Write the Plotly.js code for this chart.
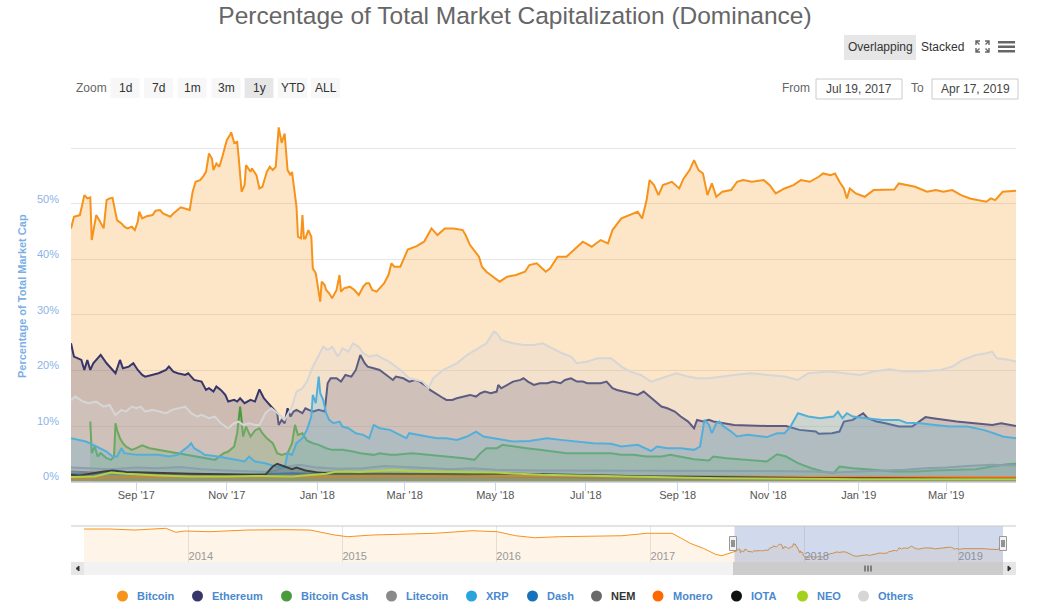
<!DOCTYPE html>
<html><head><meta charset="utf-8">
<script src="https://cdn.plot.ly/plotly-3.0.1.min.js"></script>
<style>html,body{margin:0;padding:0;background:#fff;}#chart{width:1041px;height:614px;}</style>
</head><body><div id="chart"></div>
<script>
// ---------------- DATA ----------------
const seriesNames = ['Bitcoin','Ethereum','Bitcoin Cash','Litecoin','XRP','Dash','NEM','Monero','IOTA','NEO','Others'];
const zoomButtons = ['1d','7d','1m','3m','1y','YTD','ALL'];
const dateFrom = 'Jul 19, 2017';
const dateTo = 'Apr 17, 2019';

const bitcoin = [['2017-07-19',45.6],['2017-07-21',47.7],['2017-07-25',48.0],['2017-07-28',51.6],['2017-07-30',51.0],['2017-08-01',51.2],['2017-08-02',43.5],['2017-08-05',48.0],['2017-08-07',47.1],['2017-08-10',45.6],['2017-08-12',50.7],['2017-08-14',51.0],['2017-08-16',51.1],['2017-08-19',47.1],['2017-08-22',46.5],['2017-08-24',45.9],['2017-08-26',45.6],['2017-08-29',45.9],['2017-08-31',45.3],['2017-09-02',46.8],['2017-09-03',48.6],['2017-09-05',47.4],['2017-09-08',47.8],['2017-09-12',48.0],['2017-09-14',48.8],['2017-09-17',48.9],['2017-09-19',48.3],['2017-09-24',47.7],['2017-09-26',48.3],['2017-10-01',49.4],['2017-10-06',49.0],['2017-10-07',48.9],['2017-10-09',52.2],['2017-10-11',54.0],['2017-10-14',54.3],['2017-10-16',54.9],['2017-10-18',55.8],['2017-10-20',59.1],['2017-10-22',58.2],['2017-10-23',56.1],['2017-10-25',57.3],['2017-10-27',56.7],['2017-10-29',58.5],['2017-11-01',61.5],['2017-11-03',62.4],['2017-11-04',62.9],['2017-11-06',61.0],['2017-11-08',61.2],['2017-11-09',58.5],['2017-11-11',52.2],['2017-11-13',53.4],['2017-11-14',57.0],['2017-11-17',55.8],['2017-11-18',56.4],['2017-11-21',55.2],['2017-11-23',52.8],['2017-11-25',53.1],['2017-11-28',55.8],['2017-11-30',56.7],['2017-12-02',56.1],['2017-12-04',56.7],['2017-12-06',63.8],['2017-12-08',61.0],['2017-12-09',62.1],['2017-12-10',62.7],['2017-12-12',56.1],['2017-12-14',55.2],['2017-12-15',55.8],['2017-12-18',49.5],['2017-12-19',44.1],['2017-12-21',43.8],['2017-12-22',48.0],['2017-12-23',43.8],['2017-12-24',43.8],['2017-12-26',45.3],['2017-12-28',44.1],['2017-12-29',38.4],['2017-12-31',37.5],['2018-01-01',35.7],['2018-01-03',32.4],['2018-01-04',36.0],['2018-01-06',35.4],['2018-01-07',34.5],['2018-01-09',33.9],['2018-01-11',33.0],['2018-01-14',34.5],['2018-01-16',37.2],['2018-01-17',34.2],['2018-01-19',34.8],['2018-01-23',35.1],['2018-01-26',34.5],['2018-01-29',33.6],['2018-02-01',35.1],['2018-02-03',35.7],['2018-02-05',35.7],['2018-02-07',34.5],['2018-02-10',34.2],['2018-02-12',34.8],['2018-02-15',35.7],['2018-02-18',37.2],['2018-02-20',39.3],['2018-02-22',38.7],['2018-02-26',38.7],['2018-03-03',41.8],['2018-03-09',42.4],['2018-03-14',43.2],['2018-03-19',45.6],['2018-03-23',44.4],['2018-03-28',45.6],['2018-04-03',45.6],['2018-04-09',45.3],['2018-04-11',44.4],['2018-04-14',42.6],['2018-04-20',40.5],['2018-04-22',38.7],['2018-04-25',37.8],['2018-04-28',37.2],['2018-05-04',36.0],['2018-05-09',36.9],['2018-05-15',37.2],['2018-05-21',37.8],['2018-05-24',39.0],['2018-05-29',39.3],['2018-06-04',37.8],['2018-06-07',38.4],['2018-06-12',40.5],['2018-06-18',40.5],['2018-06-24',42.0],['2018-06-29',43.2],['2018-07-05',42.3],['2018-07-11',43.5],['2018-07-16',42.9],['2018-07-19',45.3],['2018-07-25',47.4],['2018-07-30',48.0],['2018-08-05',48.6],['2018-08-08',47.4],['2018-08-11',50.7],['2018-08-13',54.3],['2018-08-16',53.4],['2018-08-19',51.6],['2018-08-22',53.4],['2018-08-28',54.0],['2018-09-02',52.8],['2018-09-05',54.6],['2018-09-09',56.1],['2018-09-12',57.9],['2018-09-15',56.1],['2018-09-18',55.5],['2018-09-21',51.6],['2018-09-24',53.7],['2018-09-27',51.3],['2018-10-01',52.2],['2018-10-07',52.5],['2018-10-11',54.0],['2018-10-15',54.3],['2018-10-21',54.0],['2018-10-29',54.3],['2018-11-02',53.4],['2018-11-06',51.9],['2018-11-12',52.8],['2018-11-18',53.4],['2018-11-23',54.3],['2018-11-29',54.0],['2018-12-05',54.9],['2018-12-08',55.5],['2018-12-13',55.2],['2018-12-16',55.5],['2018-12-19',54.0],['2018-12-22',52.8],['2018-12-24',51.0],['2018-12-26',52.8],['2018-12-30',51.9],['2019-01-05',51.3],['2019-01-11',52.5],['2019-01-16',52.5],['2019-01-25',52.6],['2019-01-28',53.7],['2019-02-02',53.4],['2019-02-08',53.1],['2019-02-16',52.2],['2019-02-22',52.5],['2019-02-27',52.2],['2019-03-05',52.5],['2019-03-11',51.6],['2019-03-17',51.0],['2019-03-22',50.7],['2019-03-28',50.4],['2019-03-31',51.0],['2019-04-03',50.7],['2019-04-08',52.2],['2019-04-17',52.4]];

const ethereum = [['2017-07-19',24.9],['2017-07-21',22.5],['2017-07-26',21.9],['2017-07-28',20.1],['2017-07-30',21.9],['2017-08-01',20.1],['2017-08-03',21.3],['2017-08-05',21.9],['2017-08-08',22.8],['2017-08-12',21.3],['2017-08-16',20.1],['2017-08-18',19.5],['2017-08-21',21.9],['2017-08-23',20.4],['2017-08-27',20.7],['2017-08-30',21.3],['2017-09-02',20.1],['2017-09-05',19.2],['2017-09-07',18.9],['2017-09-12',19.2],['2017-09-16',19.5],['2017-09-21',20.1],['2017-09-23',20.7],['2017-09-26',19.8],['2017-09-29',19.5],['2017-10-04',19.2],['2017-10-06',19.5],['2017-10-08',18.9],['2017-10-10',18.3],['2017-10-15',18.0],['2017-10-18',16.5],['2017-10-20',16.8],['2017-10-23',16.2],['2017-10-25',17.1],['2017-10-28',16.5],['2017-10-31',15.6],['2017-11-02',14.4],['2017-11-06',14.7],['2017-11-08',14.4],['2017-11-10',15.0],['2017-11-13',14.1],['2017-11-17',14.7],['2017-11-20',14.4],['2017-11-23',16.6],['2017-11-26',15.0],['2017-11-28',14.4],['2017-12-02',13.2],['2017-12-05',12.3],['2017-12-06',10.2],['2017-12-08',11.1],['2017-12-10',10.5],['2017-12-12',13.2],['2017-12-14',11.7],['2017-12-16',12.6],['2017-12-18',12.9],['2017-12-22',12.3],['2017-12-24',13.2],['2017-12-26',12.9],['2017-12-29',12.6],['2018-01-02',12.9],['2018-01-06',12.6],['2018-01-08',17.7],['2018-01-10',18.6],['2018-01-14',18.6],['2018-01-17',18.0],['2018-01-20',19.2],['2018-01-24',18.9],['2018-01-27',20.1],['2018-01-30',22.8],['2018-02-02',21.3],['2018-02-04',20.7],['2018-02-08',20.4],['2018-02-12',20.1],['2018-02-15',19.5],['2018-02-21',18.3],['2018-02-23',18.9],['2018-02-28',18.6],['2018-03-04',18.0],['2018-03-08',18.3],['2018-03-11',18.0],['2018-03-16',17.1],['2018-03-18',16.5],['2018-03-23',15.6],['2018-03-27',15.0],['2018-03-29',14.7],['2018-04-02',14.7],['2018-04-05',15.0],['2018-04-10',15.3],['2018-04-14',15.6],['2018-04-18',15.3],['2018-04-21',15.9],['2018-04-24',16.2],['2018-04-28',15.9],['2018-05-02',16.2],['2018-05-03',17.4],['2018-05-05',16.8],['2018-05-09',17.4],['2018-05-13',18.0],['2018-05-18',18.3],['2018-05-20',18.6],['2018-05-23',18.0],['2018-05-27',17.4],['2018-05-31',17.7],['2018-06-05',17.7],['2018-06-09',18.0],['2018-06-14',17.7],['2018-06-17',18.3],['2018-06-21',18.6],['2018-06-25',18.0],['2018-06-29',18.0],['2018-07-02',17.7],['2018-07-06',17.7],['2018-07-11',17.7],['2018-07-15',18.0],['2018-07-19',16.8],['2018-07-22',16.5],['2018-07-27',16.2],['2018-07-31',15.9],['2018-08-05',15.6],['2018-08-09',16.2],['2018-08-13',15.3],['2018-08-17',14.4],['2018-08-21',13.5],['2018-08-25',13.2],['2018-08-30',12.6],['2018-09-03',11.7],['2018-09-08',10.8],['2018-09-12',9.6],['2018-09-14',11.1],['2018-09-18',10.8],['2018-09-22',11.1],['2018-09-25',10.8],['2018-10-09',10.2],['2018-10-31',10.0],['2018-11-13',10.0],['2018-11-22',9.3],['2018-12-03',9.0],['2018-12-05',8.6],['2018-12-14',8.7],['2018-12-19',9.0],['2018-12-22',10.8],['2018-12-28',11.1],['2019-01-04',12.3],['2019-01-07',11.4],['2019-01-13',10.8],['2019-01-19',10.5],['2019-01-28',9.9],['2019-02-06',9.9],['2019-02-15',11.6],['2019-02-20',11.4],['2019-02-27',11.1],['2019-03-08',10.8],['2019-03-20',10.5],['2019-04-01',10.2],['2019-04-07',10.5],['2019-04-17',10.0]];

const bitcoinCash = [['2017-08-01',10.8],['2017-08-02',5.1],['2017-08-04',6.3],['2017-08-06',4.5],['2017-08-08',5.1],['2017-08-12',4.2],['2017-08-15',3.9],['2017-08-17',4.5],['2017-08-18',10.5],['2017-08-19',9.3],['2017-08-21',7.8],['2017-08-23',6.9],['2017-08-25',6.3],['2017-08-29',5.7],['2017-09-01',6.0],['2017-09-05',6.5],['2017-09-10',6.0],['2017-09-16',5.7],['2017-09-23',5.4],['2017-09-29',5.1],['2017-10-04',4.8],['2017-10-10',4.5],['2017-10-17',4.2],['2017-10-24',3.9],['2017-10-30',5.1],['2017-11-02',5.4],['2017-11-06',6.3],['2017-11-08',8.7],['2017-11-09',11.1],['2017-11-10',13.5],['2017-11-11',11.1],['2017-11-12',8.1],['2017-11-14',9.9],['2017-11-17',8.1],['2017-11-20',9.2],['2017-11-23',9.6],['2017-11-25',8.7],['2017-11-28',7.8],['2017-12-02',6.9],['2017-12-05',5.1],['2017-12-08',4.8],['2017-12-12',5.1],['2017-12-15',6.9],['2017-12-17',10.2],['2017-12-19',8.4],['2017-12-22',8.7],['2017-12-25',7.4],['2017-12-29',6.9],['2018-01-02',6.6],['2018-01-07',6.0],['2018-01-11',5.7],['2018-01-18',5.7],['2018-01-25',5.4],['2018-01-30',5.1],['2018-02-08',4.8],['2018-02-12',5.1],['2018-02-19',4.8],['2018-02-23',4.8],['2018-03-06',5.1],['2018-03-18',4.8],['2018-03-29',4.5],['2018-04-10',4.2],['2018-04-17',3.9],['2018-04-21',5.1],['2018-04-25',6.0],['2018-05-02',6.0],['2018-05-06',6.6],['2018-05-13',6.3],['2018-05-22',6.0],['2018-05-31',5.7],['2018-06-09',5.4],['2018-06-18',5.1],['2018-06-27',5.1],['2018-07-06',5.1],['2018-07-18',5.1],['2018-07-25',4.8],['2018-08-02',4.8],['2018-08-11',4.5],['2018-08-21',4.5],['2018-08-27',4.8],['2018-09-03',4.5],['2018-09-12',4.0],['2018-09-22',3.8],['2018-09-25',4.5],['2018-10-04',4.2],['2018-10-20',3.9],['2018-10-31',3.6],['2018-11-07',4.9],['2018-11-13',4.5],['2018-11-21',3.3],['2018-11-30',2.4],['2018-12-08',1.8],['2018-12-15',1.5],['2018-12-19',2.7],['2018-12-28',2.4],['2019-01-11',2.1],['2019-01-24',1.8],['2019-02-09',1.8],['2019-02-20',2.0],['2019-03-10',2.1],['2019-03-21',2.2],['2019-04-01',2.7],['2019-04-11',3.1],['2019-04-17',3.2]];

const litecoin = [['2017-07-19',2.5],['2017-08-01',2.3],['2017-08-15',2.2],['2017-09-01',2.5],['2017-09-15',2.4],['2017-10-01',2.6],['2017-10-15',2.2],['2017-11-01',2.0],['2017-11-15',1.8],['2017-12-01',1.7],['2017-12-12',2.7],['2017-12-20',3.0],['2018-01-01',2.5],['2018-01-15',2.3],['2018-02-01',2.4],['2018-02-15',2.8],['2018-03-01',2.6],['2018-03-15',2.4],['2018-04-01',2.2],['2018-04-15',2.4],['2018-05-01',2.1],['2018-06-01',2.0],['2018-07-01',2.0],['2018-08-01',2.0],['2018-09-01',1.9],['2018-10-01',1.9],['2018-11-01',1.9],['2018-12-01',1.8],['2018-12-15',1.6],['2019-01-01',1.8],['2019-02-01',2.1],['2019-02-15',2.4],['2019-03-01',2.5],['2019-03-15',2.8],['2019-04-01',3.0],['2019-04-17',2.9]];

const xrp = [['2017-07-19',7.8],['2017-07-25',7.5],['2017-07-29',7.2],['2017-08-03',6.6],['2017-08-07',6.0],['2017-08-12',5.4],['2017-08-16',4.5],['2017-08-19',4.5],['2017-08-22',6.0],['2017-08-24',5.1],['2017-09-01',4.8],['2017-09-16',4.8],['2017-09-23',4.5],['2017-09-29',4.8],['2017-10-03',5.7],['2017-10-06',6.3],['2017-10-08',6.9],['2017-10-10',6.0],['2017-10-14',5.4],['2017-10-17',4.8],['2017-10-26',4.5],['2017-10-31',4.2],['2017-11-07',3.9],['2017-11-13',3.6],['2017-11-16',4.5],['2017-11-20',3.6],['2017-11-27',3.3],['2017-12-04',2.7],['2017-12-10',2.4],['2017-12-12',5.1],['2017-12-15',4.8],['2017-12-18',6.9],['2017-12-22',7.8],['2017-12-25',9.3],['2017-12-28',11.7],['2017-12-29',15.6],['2017-12-31',14.1],['2018-01-02',18.9],['2018-01-03',15.9],['2018-01-05',14.7],['2018-01-07',12.3],['2018-01-09',11.1],['2018-01-12',10.5],['2018-01-16',10.8],['2018-01-18',9.9],['2018-01-22',9.6],['2018-01-27',8.7],['2018-02-01',8.4],['2018-02-05',7.8],['2018-02-08',10.2],['2018-02-12',9.6],['2018-02-19',9.3],['2018-02-26',8.4],['2018-03-02',7.8],['2018-03-04',8.7],['2018-03-09',8.4],['2018-03-16',8.1],['2018-03-23',7.8],['2018-03-29',7.8],['2018-04-05',7.5],['2018-04-12',8.1],['2018-04-18',9.0],['2018-04-23',8.1],['2018-04-30',7.8],['2018-05-06',7.5],['2018-05-13',7.2],['2018-05-24',7.3],['2018-06-05',7.8],['2018-06-14',7.5],['2018-06-25',7.2],['2018-07-06',6.9],['2018-07-18',6.8],['2018-07-25',6.3],['2018-08-05',6.6],['2018-08-14',5.5],['2018-08-18',6.3],['2018-08-25',6.0],['2018-09-03',6.0],['2018-09-12',5.7],['2018-09-16',6.3],['2018-09-19',11.1],['2018-09-22',10.2],['2018-09-24',8.7],['2018-09-27',10.5],['2018-09-29',10.8],['2018-10-02',9.9],['2018-10-07',9.0],['2018-10-11',8.1],['2018-10-18',8.4],['2018-10-31',8.0],['2018-11-07',8.7],['2018-11-12',8.7],['2018-11-16',9.9],['2018-11-21',12.3],['2018-11-28',11.7],['2018-12-06',11.4],['2018-12-15',11.7],['2018-12-18',12.6],['2018-12-21',11.4],['2018-12-24',12.3],['2018-12-28',11.7],['2019-01-06',11.4],['2019-01-17',11.1],['2019-01-28',11.1],['2019-02-02',10.6],['2019-02-11',10.5],['2019-02-20',10.2],['2019-03-03',9.9],['2019-03-15',9.9],['2019-03-26',9.3],['2019-04-02',8.7],['2019-04-08',8.1],['2019-04-17',7.8]];

const dash = [['2017-07-19',1.4],['2017-08-15',1.5],['2017-09-15',1.4],['2017-10-15',1.2],['2017-11-15',1.2],['2017-12-15',1.5],['2018-01-15',1.3],['2018-02-15',1.2],['2018-03-15',1.1],['2018-04-15',1.0],['2018-05-15',1.0],['2018-06-15',1.0],['2018-07-15',0.9],['2018-08-15',0.9],['2018-09-15',0.9],['2018-10-15',0.8],['2018-11-15',0.8],['2018-12-15',0.7],['2019-01-15',0.7],['2019-02-15',0.6],['2019-03-15',0.6],['2019-04-17',0.6]];

const nem = [['2017-07-19',1.8],['2017-08-15',1.5],['2017-09-15',1.3],['2017-10-15',1.2],['2017-11-15',1.0],['2017-12-15',1.1],['2018-01-15',1.8],['2018-02-15',1.2],['2018-03-15',1.0],['2018-04-15',1.0],['2018-05-15',0.8],['2018-06-15',0.7],['2018-07-15',0.6],['2018-08-15',0.5],['2018-09-15',0.4],['2018-10-15',0.4],['2018-11-15',0.4],['2018-12-15',0.3],['2019-01-15',0.3],['2019-02-15',0.3],['2019-03-15',0.3],['2019-04-17',0.3]];

const monero = [['2017-07-19',0.6],['2017-08-15',0.7],['2017-09-15',0.9],['2017-10-15',0.8],['2017-11-15',0.8],['2017-12-15',0.9],['2018-01-15',0.9],['2018-02-15',1.0],['2018-03-15',1.0],['2018-04-15',1.1],['2018-05-15',1.0],['2018-06-15',1.0],['2018-07-15',0.9],['2018-08-15',0.9],['2018-09-15',0.9],['2018-10-15',0.9],['2018-11-15',0.9],['2018-12-15',0.9],['2019-01-15',0.9],['2019-02-15',0.9],['2019-03-15',0.9],['2019-04-17',0.8]];

const iota = [['2017-07-19',1.2],['2017-07-25',1.1],['2017-08-10',1.8],['2017-08-16',2.0],['2017-08-25',1.7],['2017-09-16',1.5],['2017-10-08',1.4],['2017-10-31',1.3],['2017-11-27',1.2],['2017-12-02',2.7],['2017-12-05',3.2],['2017-12-10',2.7],['2017-12-15',2.2],['2017-12-18',2.5],['2017-12-24',2.0],['2018-01-02',1.6],['2018-01-11',1.4],['2018-02-15',1.4],['2018-03-15',1.3],['2018-04-15',1.3],['2018-05-15',1.4],['2018-06-15',1.3],['2018-07-15',1.1],['2018-08-15',0.9],['2018-09-15',0.8],['2018-10-15',0.7],['2018-11-15',0.6],['2018-12-15',0.6],['2019-01-15',0.6],['2019-02-15',0.5],['2019-03-15',0.5],['2019-04-17',0.5]];

const neo = [['2017-07-19',0.8],['2017-08-04',0.9],['2017-08-15',1.6],['2017-08-25',1.4],['2017-09-16',1.1],['2017-10-08',0.9],['2017-10-31',0.9],['2017-11-23',1.0],['2017-12-15',0.9],['2018-01-07',1.4],['2018-01-14',1.8],['2018-01-30',1.7],['2018-02-22',2.1],['2018-03-05',1.9],['2018-04-08',1.7],['2018-05-01',1.6],['2018-06-01',1.2],['2018-07-01',1.0],['2018-08-01',0.9],['2018-09-01',0.7],['2018-10-01',0.6],['2018-11-01',0.6],['2018-12-01',0.5],['2019-01-01',0.4],['2019-02-01',0.4],['2019-03-01',0.4],['2019-04-17',0.4]];

const others = [['2017-07-19',14.7],['2017-07-22',15.3],['2017-07-27',14.4],['2017-07-31',14.1],['2017-08-05',14.4],['2017-08-10',13.5],['2017-08-14',13.8],['2017-08-18',12.0],['2017-08-22',12.9],['2017-08-25',12.6],['2017-08-29',13.5],['2017-09-01',13.2],['2017-09-04',13.5],['2017-09-07',12.6],['2017-09-12',12.9],['2017-09-16',12.6],['2017-09-21',12.3],['2017-09-25',12.9],['2017-09-29',13.2],['2017-10-04',13.5],['2017-10-08',12.3],['2017-10-12',11.7],['2017-10-15',12.0],['2017-10-20',11.4],['2017-10-24',11.7],['2017-10-28',10.5],['2017-11-02',9.6],['2017-11-06',10.5],['2017-11-09',10.8],['2017-11-12',10.2],['2017-11-16',10.5],['2017-11-20',10.2],['2017-11-23',10.2],['2017-11-27',12.3],['2017-12-01',13.2],['2017-12-04',12.6],['2017-12-08',11.7],['2017-12-10',11.1],['2017-12-15',13.5],['2017-12-18',16.2],['2017-12-22',16.8],['2017-12-25',18.0],['2017-12-29',20.7],['2018-01-01',22.2],['2018-01-05',24.3],['2018-01-08',23.7],['2018-01-11',24.3],['2018-01-15',22.5],['2018-01-18',24.0],['2018-01-22',23.4],['2018-01-25',24.9],['2018-01-29',24.3],['2018-02-01',23.1],['2018-02-05',22.5],['2018-02-10',22.8],['2018-02-14',22.2],['2018-02-19',21.5],['2018-02-26',20.1],['2018-03-04',18.6],['2018-03-09',18.3],['2018-03-13',18.0],['2018-03-17',16.8],['2018-03-20',18.6],['2018-03-27',20.1],['2018-04-05',21.3],['2018-04-12',22.8],['2018-04-18',23.7],['2018-04-25',24.9],['2018-04-30',27.0],['2018-05-02',26.7],['2018-05-05',25.5],['2018-05-13',24.9],['2018-05-20',24.6],['2018-05-27',24.6],['2018-06-02',24.9],['2018-06-09',24.0],['2018-06-15',23.1],['2018-06-21',22.5],['2018-06-25',21.3],['2018-07-02',21.6],['2018-07-09',22.2],['2018-07-18',22.2],['2018-07-25',20.7],['2018-07-31',19.8],['2018-08-07',19.2],['2018-08-14',18.0],['2018-08-21',18.6],['2018-08-31',19.5],['2018-09-08',18.9],['2018-09-14',18.6],['2018-09-22',18.6],['2018-09-30',18.9],['2018-10-09',19.2],['2018-10-20',19.5],['2018-10-31',19.2],['2018-11-12',18.9],['2018-11-21',18.3],['2018-11-28',19.5],['2018-12-12',19.8],['2018-12-23',19.5],['2019-01-02',19.2],['2019-01-11',19.8],['2019-01-22',20.2],['2019-01-31',19.8],['2019-02-11',19.8],['2019-02-25',20.1],['2019-03-05',20.7],['2019-03-12',21.9],['2019-03-21',22.8],['2019-03-28',23.1],['2019-04-01',23.4],['2019-04-04',22.2],['2019-04-11',22.0],['2019-04-17',21.6]];

// Bitcoin dominance before the zoomed window, shown in the navigator
const bitcoinHistory = [['2013-04-28',95.0],['2013-06-28',95.0],['2013-08-27',92.8],['2013-11-08',96.5],['2013-12-02',87.9],['2013-12-23',90.7],['2014-02-21',89.2],['2014-05-21',92.8],['2014-08-18',93.5],['2014-10-16',92.8],['2014-12-14',82.0],['2015-01-13',78.4],['2015-03-13',82.0],['2015-06-10',83.5],['2015-08-08',85.7],['2015-11-05',91.3],['2016-01-03',89.2],['2016-02-16',80.5],['2016-04-01',76.2],['2016-05-30',78.4],['2016-08-27',79.9],['2016-10-25',80.5],['2016-12-23',85.7],['2017-02-21',85.7],['2017-03-15',74.9],['2017-04-05',64.1],['2017-05-06',53.3],['2017-06-04',40.3],['2017-06-19',37.3],['2017-07-12',44.0]];

const seriesData = [bitcoin, ethereum, bitcoinCash, litecoin, xrp, dash, nem, monero, iota, neo, others];

// ---------------- STYLE ----------------
const seriesColors = ['#f7931a','#36366a','#4a9b3c','#8a8a8a','#2aa4dc','#1872bb','#6a6a6a','#ff6a00','#111111','#a4d11c','#d6d6d6'];
const fillAlpha = 0.24;
function rgba(hex,a){const n=parseInt(hex.slice(1),16);return `rgba(${n>>16},${(n>>8)&255},${n&255},${a})`;}

// pixel helpers (layout chrome only)
const L=71, R=1016, PT=123, PB=562;
const PX = x => (x-L)/(R-L);
const PY = y => (PB-y)/(PB-PT);

const traces = seriesData.map((s,i)=>({
  type:'scatter', mode:'lines', name:seriesNames[i],
  x:s.map(p=>p[0]), y:s.map(p=>p[1]),
  line:{color:seriesColors[i], width:2},
  fill:'tozeroy', fillcolor:rgba(seriesColors[i], fillAlpha),
  hoverinfo:'skip', xaxis:'x', yaxis:'y'
}));
const nav = bitcoinHistory.concat(bitcoin);
traces.push({type:'scatter', mode:'lines', name:'nav', x:nav.map(p=>p[0]), y:nav.map(p=>p[1]),
  line:{color:'#f7931a', width:1}, fill:'tozeroy', fillcolor:'rgba(247,147,26,0.1)', hoverinfo:'skip',
  xaxis:'x2', yaxis:'y2'});

const shapes = [], annotations = [];
function rect(x0,y0,x1,y1,fill,line,lw){shapes.push({type:'rect',xref:'paper',yref:'paper',x0:PX(x0),x1:PX(x1),y0:PY(y0),y1:PY(y1),fillcolor:fill,line:{color:line||fill,width:lw===undefined?0:lw},layer:'above'});}
function pathS(d,color,w,fill){shapes.push({type:'path',xref:'paper',yref:'paper',path:d,line:{color:color,width:w},fillcolor:fill||'rgba(0,0,0,0)',layer:'above'});}
function P(x,y){return PX(x)+','+PY(y);}
function txt(x,y,t,o){o=o||{};annotations.push(Object.assign({xref:'paper',yref:'paper',x:PX(x),y:PY(y),text:t,showarrow:false,xanchor:o.xa||'center',yanchor:'middle',font:{family:'Liberation Sans, Arial, sans-serif',size:o.size||12,color:o.color||'#333'}},o.extra||{}));}

// Top-right view buttons
rect(844,35,916,60,'#e6e6e6');
txt(880,47.5,'Overlapping',{color:'#333'});
txt(942.5,47.5,'Stacked',{color:'#333'});
// fullscreen icon
pathS(`M${P(976,45)} L${P(976,41)} L${P(980,41)} M${P(976,41)} L${P(979.5,44.5)}`,'#666',1.4);
pathS(`M${P(985,41)} L${P(989,41)} L${P(989,45)} M${P(989,41)} L${P(985.5,44.5)}`,'#666',1.4);
pathS(`M${P(976,48)} L${P(976,52)} L${P(980,52)} M${P(976,52)} L${P(979.5,48.5)}`,'#666',1.4);
pathS(`M${P(985,52)} L${P(989,52)} L${P(989,48)} M${P(989,52)} L${P(985.5,48.5)}`,'#666',1.4);
// hamburger
rect(998,41,1015,43.5,'#666'); rect(998,45.5,1015,48,'#666'); rect(998,50,1015,52.5,'#666');

// range selector
txt(91,88,'Zoom',{color:'#666'});
const btnCenters=[125,158.5,192,226,259,292.5,325.5];
zoomButtons.forEach((b,i)=>{rect(btnCenters[i]-14.5,78,btnCenters[i]+14.5,98,b==='1y'?'#e6e6e6':'#f7f7f7');txt(btnCenters[i],88,b,{color:'#333'});});
txt(796,88,'From',{color:'#666'});
rect(816,79,902,99,'#ffffff','#cccccc',1);
txt(859,89,dateFrom,{color:'#444'});
txt(917.5,88,'To',{color:'#666'});
rect(932,79,1018,99,'#ffffff','#cccccc',1);
txt(975,89,dateTo,{color:'#444'});

// y-axis title
annotations.push({xref:'paper',yref:'paper',x:PX(22),y:PY(296),text:'<b>Percentage of Total Market Cap</b>',textangle:-90,showarrow:false,xanchor:'center',yanchor:'middle',font:{family:'Liberation Sans, Arial, sans-serif',size:11,color:'#7aaee6'}});

// navigator chrome
shapes.push({type:'rect',xref:'x2',yref:'paper',x0:'2017-07-19',x1:'2019-04-17',y0:0,y1:PY(526),fillcolor:'rgba(102,133,194,0.3)',line:{width:0},layer:'above'});
pathS(`M${P(71,526)} L${P(1016,526)}`,'#c8c8c8',1);
[733,1003].forEach(h=>{rect(h-3.5,536.5,h+3.5,550.5,'#f2f2f2','#999999',1);pathS(`M${P(h-1,540)} L${P(h-1,547)} M${P(h+1,540)} L${P(h+1,547)}`,'#333',1);});
// scrollbar
rect(71,562,1016,575,'#f2f2f2');
rect(71,562,84,575,'#e6e6e6');
rect(1003,562,1016,575,'#e6e6e6');
rect(733,562,1003,575,'#cccccc');
pathS(`M${P(79,566)} L${P(76,568.5)} L${P(79,571)} Z`,'#333',1,'#333');
pathS(`M${P(1008,566)} L${P(1011,568.5)} L${P(1008,571)} Z`,'#333',1,'#333');
pathS(`M${P(865,565.5)} L${P(865,571.5)} M${P(868,565.5)} L${P(868,571.5)} M${P(871,565.5)} L${P(871,571.5)}`,'#333',1);

// legend
const legendTextX=[135,210,299,404,484,545,609,670.5,749,815,876];
seriesNames.forEach((n,i)=>{
  const cx=legendTextX[i]-12.5;
  shapes.push({type:'circle',xref:'paper',yref:'paper',x0:PX(cx-5.5),x1:PX(cx+5.5),y0:PY(601.5),y1:PY(590.5),fillcolor:seriesColors[i],line:{width:0},layer:'above'});
  txt(legendTextX[i],596,'<b>'+n+'</b>',{xa:'left',size:11,color:n==='NEM'?'#333333':'#4a89cf'});
});

const layout = {
  width:1041, height:614, margin:{l:L, r:1041-R, t:PT, b:614-PB, pad:0},
  paper_bgcolor:'#fff', plot_bgcolor:'#fff', showlegend:false,
  font:{family:'Liberation Sans, Arial, sans-serif', size:11, color:'#333'},
  title:{text:'Percentage of Total Market Capitalization (Dominance)', x:515/1041, xref:'container', xanchor:'center', y:1-15/614, yref:'container', yanchor:'middle', font:{size:24.5, color:'#666', family:'Liberation Sans, Arial, sans-serif'}},
  xaxis:{type:'date', range:['2017-07-19','2019-04-17'], domain:[0,1], anchor:'y',
    tick0:'2017-09-01', dtick:'M2', tickformat:"%b '%y", ticks:'outside', ticklen:8, tickcolor:'#ccd6eb', ticklabelstandoff:-5,
    showline:true, linecolor:'#ccd6eb', linewidth:1, showgrid:false, zeroline:false,
    tickfont:{size:11,color:'#555'}, fixedrange:true},
  yaxis:{range:[0,64.59], domain:[PY(481.5),1], anchor:'x', tickvals:[0,10,20,30,40,50,60], ticktext:['0%','10%','20%','30%','40%','50%',''],
    showgrid:true, gridcolor:'#e6e6e6', zeroline:false, showline:false, ticks:'', ticklabelstandoff:11, ticklabelshift:-5,
    tickfont:{size:11,color:'#8cb3e6'}, fixedrange:true},
  xaxis2:{type:'date', range:['2013-04-28','2019-04-17'], domain:[PX(84),PX(1003)], anchor:'y2',
    tick0:'2014-01-01', dtick:'M12', tickformat:'%Y', ticklabelposition:'inside right', ticks:'', ticklabelstandoff:-6,
    showgrid:true, gridcolor:'#e6e6e6', showline:false, zeroline:false, tickfont:{size:11,color:'#999'}, fixedrange:true},
  yaxis2:{range:[23.7,101.5], domain:[0,PY(526)], anchor:'x2', visible:false, fixedrange:true},
  shapes:shapes, annotations:annotations
};
Plotly.newPlot('chart', traces, layout, {displayModeBar:false, staticPlot:true});
</script></body></html>
